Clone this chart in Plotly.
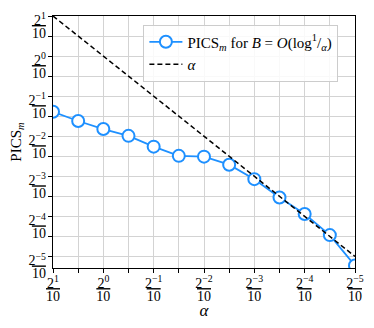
import math
import plotly.graph_objects as go

# data
alpha = [0.2, 0.1414, 0.1, 0.07071, 0.05, 0.03536, 0.025, 0.01768, 0.0125,
         0.008839, 0.00625, 0.004419, 0.003125]
pics_m = [0.03817, 0.03253, 0.02832, 0.02517, 0.02088, 0.01780, 0.01756,
          0.01528, 0.01190, 0.00866, 0.00652, 0.00452, 0.00267]
tick_exps = [1, 0, -1, -2, -3, -4, -5]

FS = 14

def frac(e):
    s = str(e).replace("-", "\u2212")
    return ("<span style='font-size:%dpx'>2<sup>%s</sup></span><br>"
            "<span style='font-size:%dpx;text-decoration:overline'>10</span>") % (FS, s, FS)

tickvals = [2.0 ** e / 10 for e in tick_exps]
ticktext = [frac(e) for e in tick_exps]
minorvals = [2.0 ** (e - 0.5) / 10 for e in tick_exps[:-1]]

blue = "#1E90FF"
FONT = "Liberation Serif"

fig = go.Figure()
fig.add_trace(go.Scatter(
    x=alpha, y=pics_m, mode="lines+markers",
    name="PICS<sub><i>m</i></sub> for <i>B</i> = <i>O</i>(log<sup>1</sup>/<sub><i>α</i></sub>)",
    line=dict(color=blue, width=1.8),
    marker=dict(symbol="circle", size=12, color="white",
                line=dict(color=blue, width=2)),
))
fig.add_trace(go.Scatter(
    x=alpha, y=alpha, mode="lines", name="<i>α</i>",
    line=dict(color="black", width=1.5, dash="5px,3px"),
))

axis_common = dict(
    type="log", tickmode="array", tickvals=tickvals, ticktext=ticktext,
    showgrid=True, gridcolor="#d3d3d3", gridwidth=1,
    showline=True, linecolor="black", linewidth=1.2, mirror=True,
    ticks="outside", ticklen=4, tickcolor="black", tickwidth=1,
    zeroline=False, automargin=False, ticklabeloverflow="allow",
    tickfont=dict(family=FONT, size=10, color="black"),
    minor=dict(tickmode="array", tickvals=minorvals, ticks="outside", ticklen=4,
               tickcolor="black", tickwidth=1, showgrid=True,
               gridcolor="#d3d3d3", gridwidth=1),
)

eps = 1e-6
fig.update_layout(
    width=358, height=312,
    margin=dict(l=44.5, r=10.5, t=7.5, b=51.7),
    paper_bgcolor="white", plot_bgcolor="white",
    font=dict(family=FONT, color="black"),
    xaxis=dict(axis_common, range=[math.log10(0.2) + eps, math.log10(0.003125) - eps],
               ticklabelstandoff=3,
               title=dict(text="<i>α</i>", font=dict(family=FONT, size=17), standoff=4)),
    yaxis=dict(axis_common, range=[math.log10(2 ** -5.288 / 10), math.log10(0.2) + eps],
               ticklabelshift=12,
               title=dict(text="PICS<sub><i>m</i></sub>", font=dict(family=FONT, size=15), standoff=24)),
    legend=dict(x=0.945, y=0.966, xanchor="right", yanchor="top",
                bgcolor="rgba(255,255,255,0.85)", bordercolor="#cccccc", borderwidth=1,
                font=dict(family=FONT, size=15), itemwidth=33),
    showlegend=True,
)

fig.write_html("out.html")
